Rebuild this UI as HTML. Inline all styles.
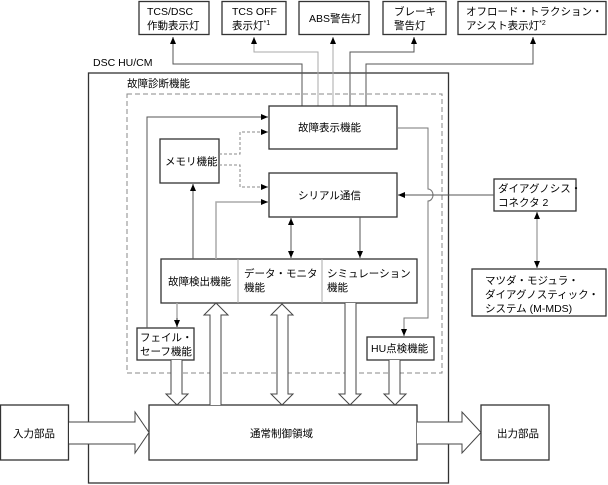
<!DOCTYPE html>
<html><head><meta charset="utf-8"><style>
html,body{margin:0;padding:0;background:#fff;}
svg{display:block;}
text{font-family:"Liberation Sans","Noto Sans CJK JP",sans-serif;font-size:10.5px;fill:#000;}
</style></head><body>
<svg width="608" height="485" viewBox="0 0 608 485" xmlns="http://www.w3.org/2000/svg">
<defs>
<marker id="a" markerWidth="8" markerHeight="8" refX="7" refY="4" orient="auto" markerUnits="userSpaceOnUse">
<path d="M0,1 L7,4 L0,7 Z" fill="#000"/></marker>
</defs>
<g fill="#fff" stroke="#333" stroke-width="1.3">
<rect x="139" y="1.5" width="70" height="33"/>
<rect x="222" y="1.5" width="64" height="33"/>
<rect x="299" y="1.5" width="70" height="33"/>
<rect x="383" y="1.5" width="63" height="33"/>
<rect x="458" y="1.5" width="148" height="33"/>
<rect x="88.5" y="73" width="360" height="410"/>
</g>
<rect x="127" y="94" width="315" height="279" fill="none" stroke="#888" stroke-dasharray="5,3"/>
<g font-size="10.5">
<text x="147" y="15">TCS/DSC</text><text x="147" y="29">作動表示灯</text>
<text x="232" y="15">TCS OFF</text><text x="232" y="29">表示灯<tspan font-size="7" dy="-4">*1</tspan></text>
<text x="309" y="22">ABS警告灯</text>
<text x="394" y="15">ブレーキ</text><text x="394" y="29">警告灯</text>
<text x="466" y="15">オフロード・トラクション・</text><text x="466" y="29">アシスト表示灯<tspan font-size="7" dy="-4">*2</tspan></text>
<text x="93" y="66">DSC HU/CM</text>
<text x="127" y="87">故障診断機能</text>
</g>
<!-- lamp lines -->
<g fill="none" stroke-width="1">
<path d="M302,106 V64 H173 V37" stroke="#555" marker-end="url(#a)"/>
<path d="M318,106 V52 H254 V37" stroke="#aaa" marker-end="url(#a)"/>
<path d="M333,106 V37" stroke="#aaa" marker-end="url(#a)"/>
<path d="M350,106 V52 H414 V37" stroke="#555" marker-end="url(#a)"/>
<path d="M366,106 V64 H533 V37" stroke="#555" marker-end="url(#a)"/>
</g>
<g fill="#fff" stroke="#333" stroke-width="1.3">
<rect x="269" y="106" width="128" height="43"/>
<rect x="269" y="173" width="128" height="44"/>
<rect x="160" y="139" width="59" height="44"/>
<rect x="161" y="259" width="256" height="44"/>
<rect x="137" y="328" width="57" height="32"/>
<rect x="367" y="337" width="67" height="23"/>
<rect x="494" y="179" width="82" height="32"/>
<rect x="472" y="269" width="134" height="47"/>
<rect x="149" y="405" width="268" height="55"/>
<rect x="0.5" y="405" width="68" height="55"/>
<rect x="481" y="405" width="68" height="55"/>
</g>
<line x1="238" y1="259" x2="238" y2="303" stroke="#aaa"/>
<line x1="322" y1="259" x2="322" y2="303" stroke="#aaa"/>
<!-- internal connectors -->
<g fill="none" stroke-width="1">
<path d="M147,328 V117 H268" stroke="#555" marker-end="url(#a)"/>
<path d="M219,154 H240 V132 H268" stroke="#888" stroke-dasharray="3,2" marker-end="url(#a)"/>
<path d="M219,165 H240 V187 H268" stroke="#888" stroke-dasharray="3,2" marker-end="url(#a)"/>
<path d="M216,259 V202 H268" stroke="#aaa" stroke-width="1.5" marker-end="url(#a)"/>
<path d="M193,259 V184" stroke="#555" marker-end="url(#a)"/>
<path d="M291,240 V218" stroke="#555" marker-end="url(#a)"/>
<path d="M291,240 V258" stroke="#555" marker-end="url(#a)"/>
<path d="M360,217 V258" stroke="#555" marker-end="url(#a)"/>
<path d="M177,303 V327" stroke="#aaa" stroke-width="1.5"/>
<path d="M177,318 V327" stroke="#555" marker-end="url(#a)"/>
<path d="M398,128 H428 V189 A5,6 0 0 1 428,201 V318 H404 V336" stroke="#777" marker-end="url(#a)"/>
<path d="M494,195 H398" stroke="#555" marker-end="url(#a)"/>
<path d="M537,240 V212" stroke="#aaa" stroke-width="1.5" marker-end="url(#a)"/>
<path d="M537,240 V268" stroke="#aaa" stroke-width="1.5" marker-end="url(#a)"/>
</g>
<!-- hollow arrows -->
<g fill="#fff" stroke="#444" stroke-width="1">
<path d="M171,360 V394 H166 L177,405 L188,394 H182 V360"/>
<path d="M210,405 V315 H204 L216,303 L228,315 H221 V405"/>
<path d="M277,315 V394 H271 L282,405 L293,394 H288 V315 H293 L282,304 L271,315 Z"/>
<path d="M345,303 V394 H339 L350,405 L361,394 H356 V303"/>
<path d="M389,360 V394 H384 L395,405 L406,394 H400 V360"/>
<path d="M69,422 H135 V412 L149,432.5 L135,453 V444 H69"/>
<path d="M417,422 H462 V412 L481,432.5 L462,453 V444 H417"/>
</g>
<g>
<text x="298" y="131">故障表示機能</text>
<text x="298" y="199">シリアル通信</text>
<text x="165" y="165">メモリ機能</text>
<text x="168" y="285">故障検出機能</text>
<text x="244" y="277">データ・モニタ</text><text x="244" y="291">機能</text>
<text x="327" y="277">シミュレーション</text><text x="327" y="291">機能</text>
<text x="140" y="341">フェイル・</text><text x="140" y="355">セーフ機能</text>
<text x="371" y="352">HU点検機能</text>
<text x="498" y="192">ダイアグノシス・</text><text x="498" y="206">コネクタ 2</text>
<text x="485" y="284">マツダ・モジュラ・</text><text x="485" y="298">ダイアグノスティック・</text><text x="485" y="312">システム (M-MDS)</text>
<text x="250" y="437">通常制御領域</text>
<text x="13" y="437">入力部品</text>
<text x="497" y="437">出力部品</text>
</g>
</svg>
</body></html>
